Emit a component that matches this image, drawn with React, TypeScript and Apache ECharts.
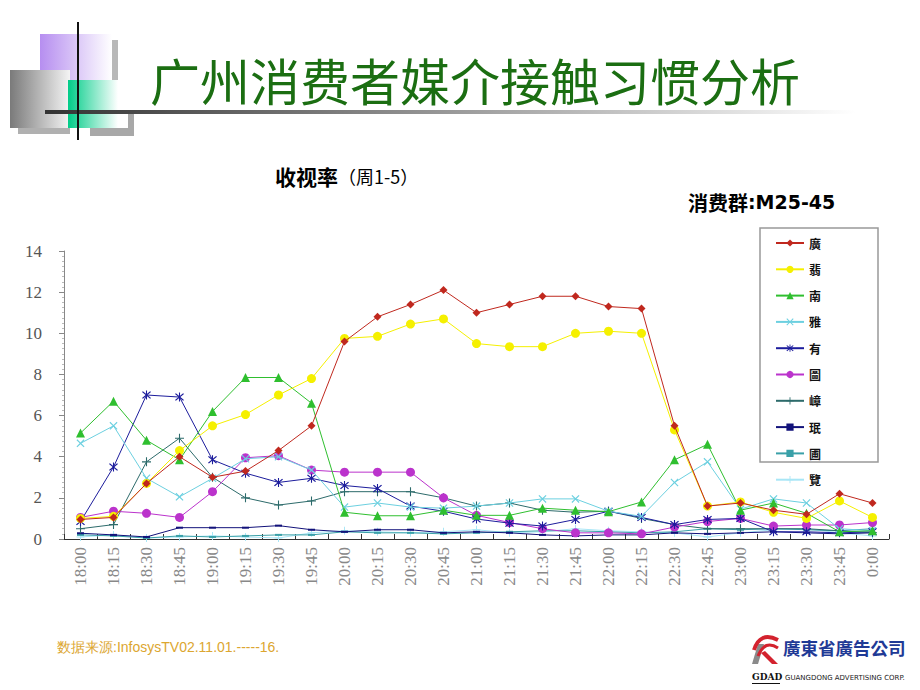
import React, { useEffect, useRef } from "react";
import * as echarts from "echarts";

const times = ["18:00","18:15","18:30","18:45","19:00","19:15","19:30","19:45","20:00","20:15","20:30","20:45","21:00","21:15","21:30","21:45","22:00","22:15","22:30","22:45","23:00","23:15","23:30","23:45","0:00"];

const seriesNames = ["廣", "翡", "南", "雅", "有", "圖", "嶂", "珉", "圃", "覽"];

const s1 = [0.95,1.05,2.7,4.0,3.0,3.3,4.3,5.5,9.6,10.8,11.4,12.1,11.0,11.4,11.8,11.8,11.3,11.2,5.5,1.6,1.75,1.4,1.2,2.2,1.75];
const s2 = [1.0,1.1,2.7,4.3,5.5,6.05,7.0,7.8,9.75,9.85,10.45,10.7,9.5,9.35,9.35,10.0,10.1,10.0,5.3,1.6,1.8,1.3,1.0,1.85,1.05];
const s3 = [5.15,6.7,4.8,3.85,6.2,7.85,7.85,6.6,1.3,1.13,1.13,1.4,1.15,1.15,1.5,1.4,1.33,1.8,3.85,4.6,1.4,1.75,1.25,0.35,0.4];
const s4 = [4.65,5.5,2.95,2.05,2.95,3.9,4.0,3.35,1.55,1.75,1.55,1.5,1.6,1.75,1.95,1.95,1.35,1.1,2.75,3.75,1.45,1.95,1.75,0.5,0.4];
const s5 = [0.85,3.5,7.0,6.9,3.85,3.2,2.75,2.95,2.6,2.45,1.6,1.35,0.97,0.77,0.63,0.95,1.35,1.05,0.7,0.95,1.0,0.35,0.35,0.3,0.35];
const s6 = [1.05,1.35,1.25,1.05,2.3,3.95,4.05,3.35,3.25,3.25,3.25,2.0,1.15,0.8,0.5,0.3,0.3,0.25,0.58,0.85,1.0,0.63,0.68,0.68,0.8];
const s7 = [0.5,0.7,3.75,4.9,3.0,2.0,1.65,1.85,2.3,2.3,2.3,2.0,1.6,1.75,1.4,1.3,1.35,1.0,0.7,0.5,0.5,0.5,0.5,0.4,0.3];
const s8 = [0.28,0.2,0.1,0.55,0.55,0.55,0.65,0.45,0.35,0.45,0.45,0.3,0.35,0.3,0.2,0.15,0.2,0.2,0.3,0.25,0.3,0.35,0.3,0.25,0.3];
const s9 = [0.2,0.15,0.05,0.15,0.1,0.15,0.2,0.2,0.35,0.3,0.3,0.25,0.3,0.35,0.4,0.4,0.35,0.3,0.35,0.5,0.45,0.5,0.45,0.4,0.5];
const s10 = [0.1,0.2,0.05,0.1,0.15,0.1,0.05,0.3,0.4,0.35,0.3,0.35,0.45,0.3,0.35,0.5,0.4,0.35,0.3,0.1,0.3,0.45,0.5,0.3,0.15];

const yTicks = [0, 14, 2];

const X_PATH = "path://M0,1L1,0L5,4L9,0L10,1L6,5L10,9L9,10L5,6L1,10L0,9L4,5Z";
const AST_PATH = "path://M0,1L1,0L5,4L9,0L10,1L6,5L10,9L9,10L5,6L1,10L0,9L4,5Z M4.4,-1L5.6,-1L5.6,11L4.4,11Z";
const PLUS_PATH = "path://M4.4,0H5.6V4.4H10V5.6H5.6V10H4.4V5.6H0V4.4H4.4Z";

const styles: any[] = [
  { color: "#c0281e", symbol: "diamond", size: 8 },
  { color: "#f5f000", symbol: "circle", size: 9 },
  { color: "#2fbf2f", symbol: "triangle", size: 9 },
  { color: "#6cd0e0", symbol: X_PATH, size: 8 },
  { color: "#1c1c9c", symbol: AST_PATH, size: 9 },
  { color: "#bb33cc", symbol: "circle", size: 9 },
  { color: "#2d6b6b", symbol: PLUS_PATH, size: 9 },
  { color: "#12127a", symbol: "rect", size: [7, 2] },
  { color: "#3aa0a8", symbol: "rect", size: [7, 2] },
  { color: "#a8e6f6", symbol: PLUS_PATH, size: 8 },
];

const dataSets = [s1, s2, s3, s4, s5, s6, s7, s8, s9, s10];

export default function App() {
  const ref = useRef<HTMLDivElement>(null);
  useEffect(() => {
    document.body.style.margin = "0";
    if (!ref.current) return;
    const chart = echarts.init(ref.current, undefined, { renderer: "svg" });
    const lg = (c1: string, c2: string) =>
      new echarts.graphic.LinearGradient(0, 0, 1, 0, [
        { offset: 0, color: c1 },
        { offset: 1, color: c2 },
      ]);
    const option: any = {
      animation: false,
      backgroundColor: "#ffffff",
      grid: { left: 64, top: 251, right: 31, bottom: 151 },
      legend: {
        orient: "vertical",
        left: 770,
        top: 232,
        itemWidth: 28,
        itemHeight: 9,
        itemGap: 14.3,
        data: seriesNames,
        textStyle: { fontFamily: "Noto Sans CJK TC", fontWeight: "bold", fontSize: 12, color: "#111" },
      },
      xAxis: {
        type: "category",
        data: times,
        boundaryGap: true,
        axisLine: { lineStyle: { color: "#333", width: 1 } },
        axisTick: { show: true, inside: true, length: 5, lineStyle: { color: "#333" } },
        axisLabel: {
          rotate: 90,
          interval: 0,
          margin: 8,
          fontFamily: "Liberation Serif",
          fontSize: 17,
          color: "#888",
        },
        splitLine: { show: false },
      },
      yAxis: {
        type: "value",
        min: yTicks[0],
        max: yTicks[1],
        interval: yTicks[2],
        axisLine: { show: true, lineStyle: { color: "#888" } },
        axisTick: { show: true, length: 5, lineStyle: { color: "#888" } },
        minorTick: { show: true, splitNumber: 8, length: 2, lineStyle: { color: "#bbb" } },
        splitLine: { show: false },
        axisLabel: { margin: 22, fontFamily: "Liberation Serif", fontSize: 17, color: "#555" },
      },
      series: dataSets.map((d, i) => ({
        name: seriesNames[i],
        type: "line",
        data: d,
        symbol: styles[i].symbol,
        symbolSize: styles[i].size,
        showAllSymbol: true,
        lineStyle: { color: styles[i].color, width: 1 },
        itemStyle: { color: styles[i].color },
        z: 10 - i,
      })),
      graphic: [
        // decorations
        { type: "rect", shape: { x: 40, y: 34, width: 72, height: 46 }, style: { fill: lg("#b68ef0", "#ffffff") }, z: 1 },
        { type: "rect", shape: { x: 112, y: 40, width: 6, height: 72 }, style: { fill: "#b8b8b8" }, z: 1 },
        { type: "rect", shape: { x: 10, y: 70, width: 60, height: 58 }, style: { fill: lg("#7a7a7a", "#f4f4f4") }, z: 2 },
        { type: "rect", shape: { x: 18, y: 128, width: 52, height: 6 }, style: { fill: "#b0b0b0" }, z: 1 },
        { type: "rect", shape: { x: 68, y: 80, width: 50, height: 48 }, style: { fill: lg("#00cc88", "#ffffff") }, z: 2 },
        { type: "rect", shape: { x: 90, y: 128, width: 40, height: 8 }, style: { fill: "#a8a8a8" }, z: 1 },
        { type: "rect", shape: { x: 128, y: 110, width: 6, height: 26 }, style: { fill: "#a8a8a8" }, z: 1 },
        { type: "rect", shape: { x: 45, y: 110, width: 810, height: 4 }, style: { fill: lg("#333333", "#ffffff") }, z: 3 },
        { type: "rect", shape: { x: 77, y: 22, width: 2, height: 118 }, style: { fill: "#111" }, z: 4 },
        {
          type: "text", left: 150, top: 54, z: 5,
          style: { text: "广州消费者媒介接触习惯分析", font: "50px 'Noto Sans CJK SC'", fill: "#1b6e12" },
        },
        {
          type: "text", left: 275, top: 165, z: 5,
          style: {
            text: "{b|收视率}{n|（周1-5）}",
            rich: {
              b: { font: "bold 21px 'Noto Sans CJK SC'", fill: "#000" },
              n: { font: "18px 'Noto Sans CJK SC'", fill: "#000" },
            },
          },
        },
        {
          type: "text", left: 688, top: 192, z: 5,
          style: {
            text: "{b|消费群}{m|:M25-45}",
            rich: {
              b: { font: "bold 20px 'Noto Sans CJK SC'", fill: "#000" },
              m: { font: "bold 19px 'DejaVu Sans'", fill: "#000" },
            },
          },
        },
        { type: "rect", shape: { x: 760, y: 228, width: 118, height: 234 }, style: { fill: "none", stroke: "#999", lineWidth: 1.5 }, z: 1 },
        {
          type: "text", left: 57, top: 640, z: 5,
          style: { text: "数据来源:InfosysTV02.11.01.-----16.", font: "14px 'Liberation Sans'", fill: "#dca630" },
        },
        // logo
        { type: "polygon", shape: { points: [[752, 664], [758, 644], [764, 644], [758, 664]] }, style: { fill: "#8a8a8a" }, z: 5 },
        { type: "bezierCurve", shape: { x1: 754, y1: 650, x2: 778, y2: 640, cpx1: 760, cpy1: 631 }, style: { stroke: "#d3222e", lineWidth: 4, fill: "none" }, z: 5 },
        { type: "bezierCurve", shape: { x1: 758, y1: 656, x2: 778, y2: 648, cpx1: 765, cpy1: 639 }, style: { stroke: "#d3222e", lineWidth: 3, fill: "none" }, z: 5 },
        { type: "polygon", shape: { points: [[765, 651], [778, 664], [772, 664], [761, 653]] }, style: { fill: "#d3222e" }, z: 5 },
        {
          type: "text", left: 783, top: 639, z: 5,
          style: { text: "廣東省廣告公司", font: "bold 17.5px 'Noto Sans CJK TC'", fill: "#1f3a96" },
        },
        {
          type: "text", left: 752, top: 672, z: 5,
          style: { text: "GDAD", font: "bold 9px 'DejaVu Serif'", fill: "#111" },
        },
        { type: "rect", shape: { x: 752, y: 683, width: 28, height: 1 }, style: { fill: "#111" }, z: 5 },
        {
          type: "text", left: 785, top: 674, z: 5,
          style: { text: "GUANGDONG ADVERTISING CORP.", font: "7px 'DejaVu Sans'", fill: "#222" },
        },
      ],
    };
    chart.setOption(option);
    return () => chart.dispose();
  }, []);
  return <div ref={ref} style={{ width: 920, height: 690 }} />;
}
